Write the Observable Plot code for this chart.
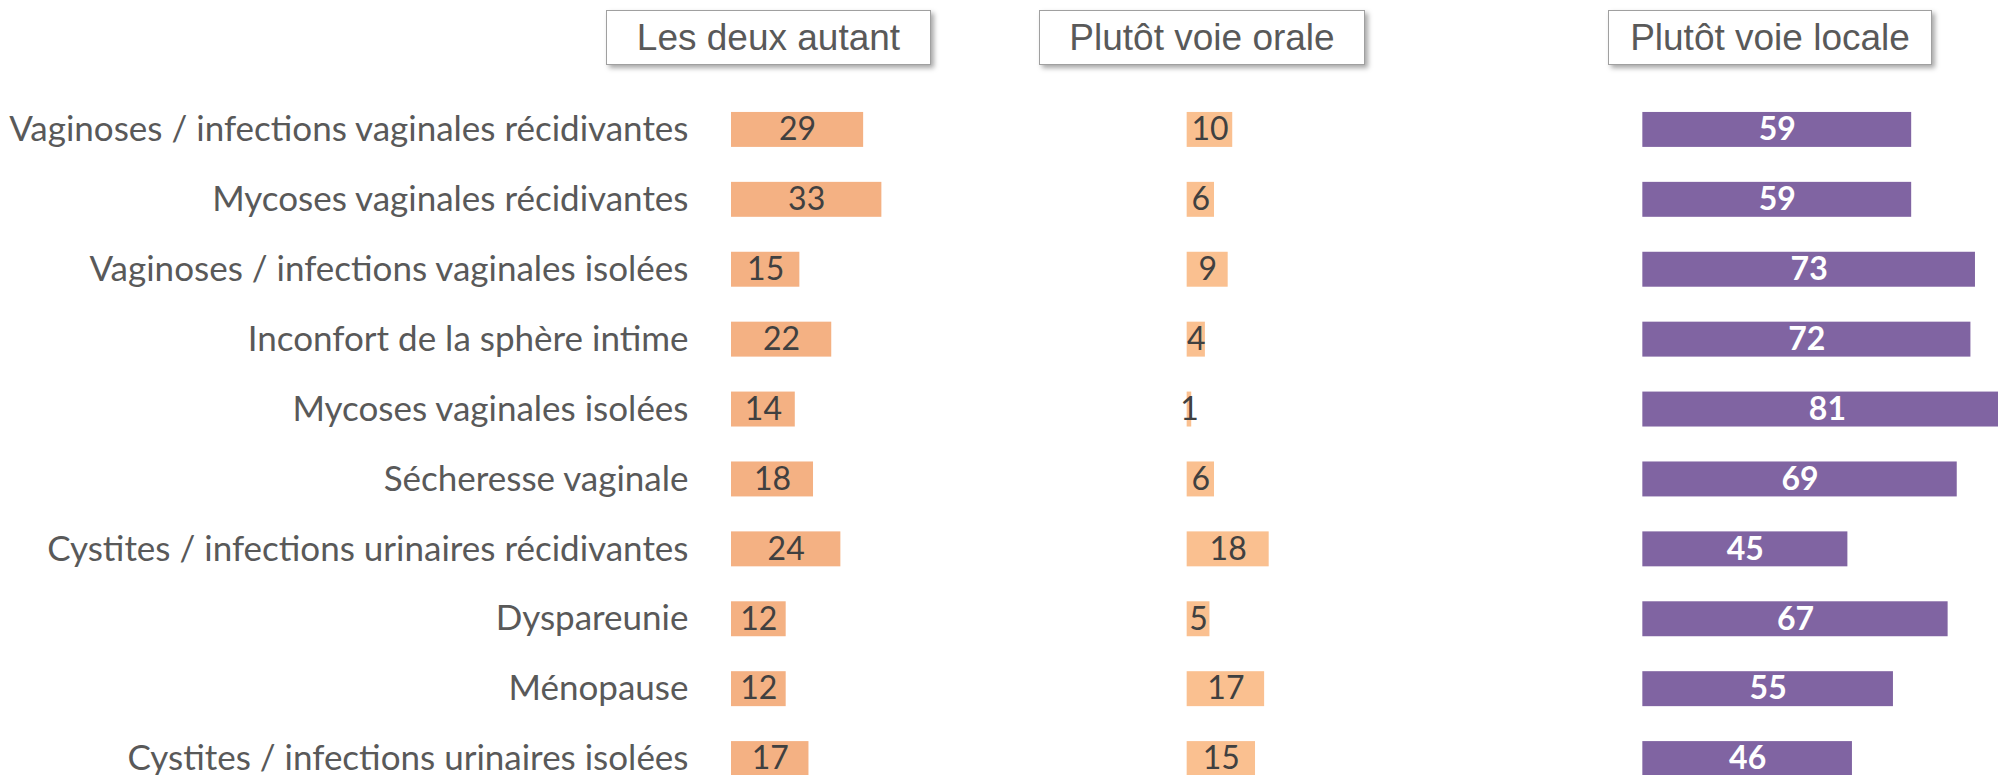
<!DOCTYPE html>
<html>
<head>
<meta charset="utf-8">
<script src="https://cdn.jsdelivr.net/npm/d3@7"></script>
<script src="https://cdn.jsdelivr.net/npm/@observablehq/plot@0.6"></script>
<style>
  html, body { margin: 0; padding: 0; background: #fff; overflow: hidden; }
  #wrap { position: relative; width: 1998px; height: 775px; overflow: hidden; }
  #chart { position: absolute; left: 0; top: 0; width: 2098px; }
  #chart svg { max-width: none !important; width: 2098px !important; height: 811px !important; }
  .hdr {
    position: absolute; top: 10px; height: 55px; box-sizing: border-box;
    background: #fff; border: 1.5px solid #a0a0a0;
    box-shadow: 3px 3px 5px rgba(0,0,0,0.35);
    font-family: "Liberation Sans", Arial, sans-serif; font-size: 37px; color: #595959;
    display: flex; align-items: center; justify-content: center; white-space: nowrap;
  }
</style>
</head>
<body>
<div id="wrap">
  <div id="chart"></div>
  <div class="hdr" id="h0" style="left:606px; width:325px;"></div>
  <div class="hdr" id="h1" style="left:1039px; width:326px;"></div>
  <div class="hdr" id="h2" style="left:1608px; width:324px;"></div>
</div>
<script>
const categories = [
  "Vaginoses / infections vaginales récidivantes",
  "Mycoses vaginales récidivantes",
  "Vaginoses / infections vaginales isolées",
  "Inconfort de la sphère intime",
  "Mycoses vaginales isolées",
  "Sécheresse vaginale",
  "Cystites / infections urinaires récidivantes",
  "Dyspareunie",
  "Ménopause",
  "Cystites / infections urinaires isolées"
];
const series = ["Les deux autant", "Plutôt voie orale", "Plutôt voie locale"];
const lesDeuxAutant = [29, 33, 15, 22, 14, 18, 24, 12, 12, 17];
const voieOrale = [10, 6, 9, 4, 1, 6, 18, 5, 17, 15];
const voieLocale = [59, 59, 73, 72, 81, 69, 45, 67, 55, 46];
const colors = ["#F4B183", "#FAC090", "#8064A2"];

const valuesBySerie = [lesDeuxAutant, voieOrale, voieLocale];
const data = [];
categories.forEach((c, i) => {
  series.forEach((s, j) => data.push({cat: c, serie: s, v: valuesBySerie[j][i]}));
});

series.forEach((s, j) => { document.getElementById("h" + j).textContent = s; });

const chart = Plot.plot({
  width: 2098,
  height: 811,
  marginLeft: 731,
  marginRight: 0,
  marginTop: 77,
  marginBottom: 0,
  style: {fontFamily: "Lato, sans-serif", fontSize: "35px", color: "#595959", background: "transparent"},
  fx: {domain: series, padding: 0, round: false, axis: null},
  x: {domain: [0, 100], axis: null},
  y: {domain: categories, padding: 0.5, round: false, label: null, tickSize: 0, tickPadding: 43},
  color: {domain: series, range: colors},
  marks: [
    Plot.barX(data, {fx: "serie", y: "cat", x: "v", fill: "serie"}),
    Plot.text(data.filter(d => d.serie !== series[2]), {
      fx: "serie", y: "cat", x: d => d.v / 2, text: "v",
      fill: "#404040", fontSize: 32, fontFamily: "Lato, sans-serif"
    }),
    Plot.text(data.filter(d => d.serie === series[2]), {
      fx: "serie", y: "cat", x: d => d.v / 2, text: "v",
      fill: "#ffffff", fontSize: 32, fontWeight: "bold", fontFamily: "Lato, sans-serif"
    })
  ]
});
document.getElementById("chart").appendChild(chart);
</script>
</body>
</html>
